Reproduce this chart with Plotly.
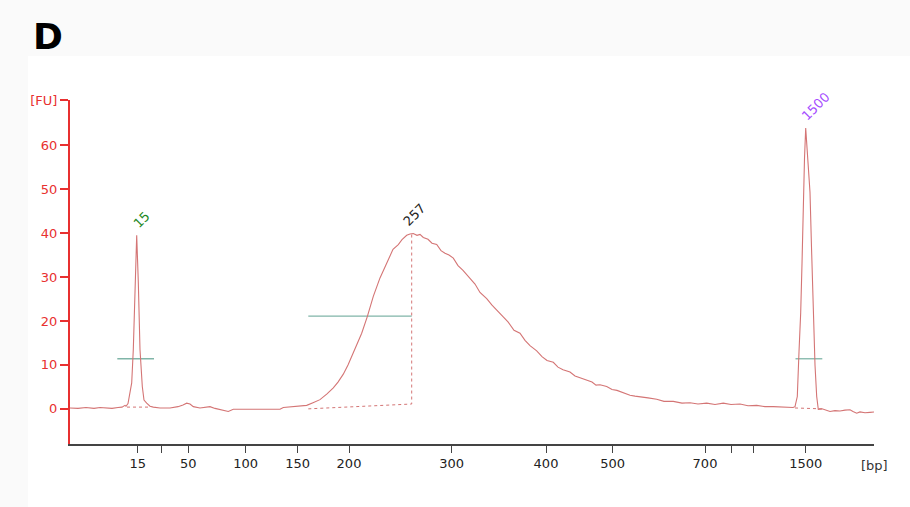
import plotly.graph_objects as go

# Electropherogram trace: migration position (axis units) and fluorescence [FU]
pos = [70, 78, 86, 94, 100, 106, 112, 118, 122, 125, 126, 128, 131.7, 133.3, 135, 136.7,
       138.3, 140, 142.3, 144, 146.7, 150, 153.3, 160, 170, 178, 183, 186.7, 190, 193.3,
       200, 205, 210, 215, 220, 225, 228.3, 233.3, 240, 250, 260, 270, 280, 283.3, 290,
       300, 306.7, 313, 320, 327, 333.3, 338, 343.3, 348, 353.3, 358, 361.7, 367.3, 373.3,
       380, 384, 388.3, 393, 398.3, 402, 406.7, 410, 413.3, 417, 420, 423.3, 428, 432,
       436.7, 441, 445, 449, 453.3, 458, 463, 470, 475, 480, 486.7, 492, 497, 503.3, 508,
       514, 520, 525, 530, 536.7, 542, 547, 553.3, 558, 563, 570, 575, 580, 586.7, 592,
       596, 600, 606.7, 612, 617, 623.3, 630, 635, 640, 648, 656.7, 664, 673.3, 682, 690,
       698, 706.7, 715, 723.3, 731, 740, 748, 756.7, 765, 773.3, 781, 790, 793, 795, 797.3,
       799, 800.7, 802, 803.3, 804.5, 805.7, 807.5, 810, 811.5, 813.3, 815, 816.7,
       818.3, 822, 826, 830, 835, 840, 845, 850, 853, 856.7, 860, 865, 870, 874]
fu = [0.2, 0.1, 0.3, 0.1, 0.3, 0.2, 0.1, 0.3, 0.4, 0.8, 0.6, 1.2, 5.9, 13.5, 28.9, 39.5,
      28.9, 13.5, 5.1, 2.0, 1.3, 0.6, 0.4, 0.2, 0.2, 0.5, 0.9, 1.3, 1.1, 0.5,
      0.2, 0.3, 0.5, 0.1, -0.1, -0.4, -0.6, -0.1, -0.1, -0.1, -0.1, -0.2, -0.1, 0.3, 0.4,
      0.6, 0.8, 1.4, 2.1, 3.4, 4.8, 6.1, 7.9, 10.0, 12.7, 15.2, 17.2, 21.0, 25.6,
      29.8, 31.8, 34.3, 36.3, 37.4, 38.5, 39.5, 39.8, 39.9, 39.5, 39.7, 39.0, 38.6, 37.7,
      37.4, 36.0, 35.4, 35.0, 34.3, 32.6, 31.5, 29.7, 28.4, 26.5, 25.1, 23.6, 22.4, 21.0, 19.8,
      17.9, 17.2, 15.6, 14.4, 13.2, 11.9, 11.0, 10.6, 9.5, 8.9, 8.4, 7.5, 7.1, 6.5, 6.1,
      5.4, 5.5, 5.1, 4.4, 4.2, 3.7, 3.1, 2.9, 2.8, 2.5, 2.2, 1.7, 1.7, 1.3, 1.4,
      1.1, 1.3, 1.0, 1.3, 1.0, 1.1, 0.7, 0.8, 0.5, 0.5, 0.4, 0.2, 0.3, 0.5, 2.8,
      13.0, 21.9, 33.0, 49.3, 57.0, 63.9, 57.8, 49.3, 36.8, 21.9, 10.0, 2.8,
      -0.1, 0.0, -0.3, -0.6, -0.4, -0.5, -0.3, -0.2, -0.6, -1.0, -0.7, -0.9, -0.8, -0.7]

# Size-ladder tick positions and labels
tick_pos = [137.7, 161.7, 188.3, 245.7, 297.7, 349, 451.7, 546, 612.7, 705, 731.7, 753.3, 805.7]
tick_lbl = ["15", "", "50", "100", "150", "200", "300", "400", "500", "700", "", "", "1500"]

y_ticks = [0, 10, 20, 30, 40, 50, 60, 70.3]
y_lbl = ["0", "10", "20", "30", "40", "50", "60", "[FU]"]

# Peak labels
peak_pos = [136.7, 411.7, 805.7]
peak_fu = [39.5, 39.9, 63.9]
peak_txt = ["15", "257", "1500"]
peak_col = ["#1f8a1f", "#222222", "#a64dff"]
label_dx = [-9, -14, -10]

# Peak-width (green) markers: x0, x1, level
width_x0 = [117.3, 308.3, 795.5]
width_x1 = [154.0, 411.7, 822.3]
width_lv = [11.4, 21.1, 11.4]

# Integration baselines (dotted)
base_x = [[127, 150], [308.3, 411.7, 411.7], [795, 822]]
base_y = [[0.4, 0.4], [0.0, 1.1, 39.9], [0.2, 0.0]]

RED = "#d47575"
fig = go.Figure()

for bx, by in zip(base_x, base_y):
    fig.add_trace(go.Scatter(x=bx, y=by, mode="lines",
                             line=dict(color=RED, width=1, dash="dot"),
                             hoverinfo="skip", showlegend=False))

for x0, x1, lv in zip(width_x0, width_x1, width_lv):
    fig.add_trace(go.Scatter(x=[x0, x1], y=[lv, lv], mode="lines",
                             line=dict(color="#80b5a8", width=1.3),
                             hoverinfo="skip", showlegend=False))

fig.add_trace(go.Scatter(x=pos, y=fu, mode="lines",
                         line=dict(color=RED, width=1.1),
                         showlegend=False))

for px, py, t, c, dx in zip(peak_pos, peak_fu, peak_txt, peak_col, label_dx):
    fig.add_annotation(x=px, y=py, text=t, showarrow=False, textangle=-45,
                       xanchor="left", yanchor="bottom", xshift=dx, yshift=2,
                       font=dict(family="DejaVu Sans", size=13, color=c))

fig.add_annotation(x=1.0, y=0, xref="paper", yref="paper", text="[bp]",
                   showarrow=False, xanchor="center", yanchor="top", yshift=-12,
                   font=dict(family="DejaVu Sans", size=13, color="#333333"))

# panel letter, placed in pixel terms relative to the plot area (l=70, t=100)
fig.add_annotation(x=-39/804, y=1 + (100 - 37)/344, xref="paper", yref="paper",
                   text="<b>D</b>", showarrow=False, xanchor="left", yanchor="middle",
                   font=dict(family="DejaVu Sans", size=36, color="black"))

# white panel area below the light title strip
fig.add_shape(type="rect", xref="paper", yref="paper",
              x0=-42/804, x1=36/804 + 1, y0=-63/344, y1=44/344 + 1,
              line=dict(width=0), fillcolor="white", layer="below")

fig.update_layout(
    width=910, height=507,
    margin=dict(l=70, r=36, t=100, b=63),
    paper_bgcolor="#fafafa",
    plot_bgcolor="white",
    font=dict(family="DejaVu Sans"),
    xaxis=dict(range=[70, 874], showgrid=False, zeroline=False,
               showline=True, linecolor="#444444", linewidth=1.5,
               ticks="outside", ticklen=7, tickwidth=1.3, tickcolor="#444444",
               tickvals=tick_pos, ticktext=tick_lbl,
               tickfont=dict(size=13, color="#222222")),
    yaxis=dict(range=[-8, 70.3], showgrid=False, zeroline=False,
               showline=True, linecolor="#e83030", linewidth=2,
               ticks="outside", ticklen=8, tickwidth=1.5, tickcolor="#e83030",
               tickvals=y_ticks, ticktext=y_lbl,
               tickfont=dict(size=13, color="#e83030")),
)

fig.write_html("out.html", config={"displayModeBar": False},
               post_script="document.body.style.margin='0';document.body.style.background='#fafafa';")
